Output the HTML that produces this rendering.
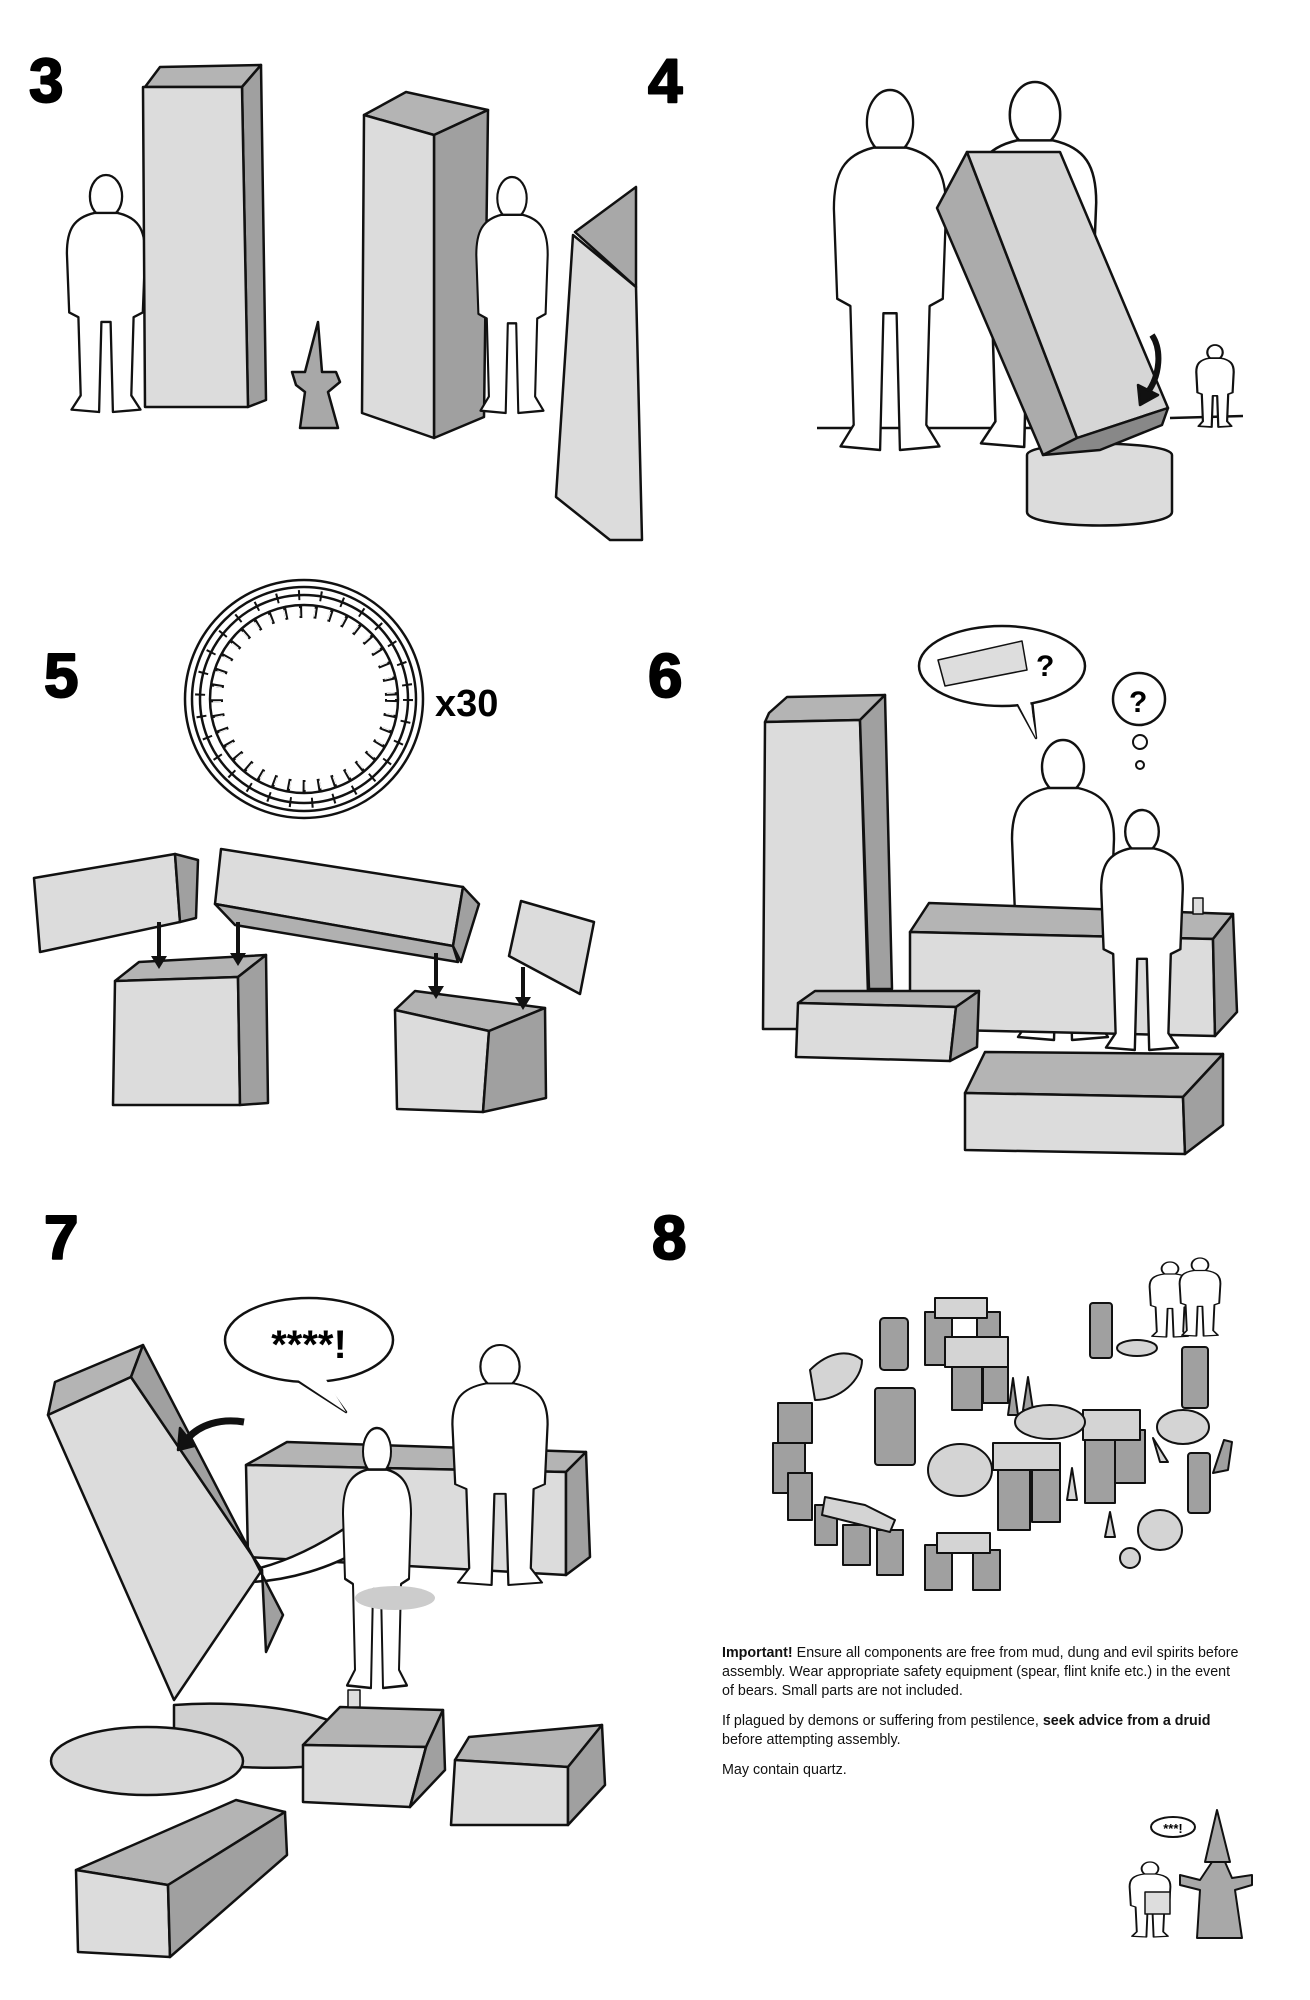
<!DOCTYPE html>
<html><head><meta charset="utf-8"><style>
html,body{margin:0;padding:0;background:#fff}
svg{display:block}
.t{font-family:"Liberation Sans",sans-serif;font-size:14.3px;fill:#111}
.n{font-family:"Liberation Sans",sans-serif;font-weight:bold;fill:#000;stroke:none}
.nb{font-family:"Liberation Sans",sans-serif;font-weight:bold;fill:#000;stroke:#000;stroke-width:2}
</style></head><body>
<svg width="1310" height="2000" viewBox="0 0 1310 2000" xmlns="http://www.w3.org/2000/svg">
<defs>
<g id="p">
<ellipse cx="0" cy="9" rx="7" ry="9"/>
<path d="M-5,16 C-14,18 -17,23 -17,33 L-16,58 L-12,60 L-11,93 L-15,99 L-3,100 L-2,62 L2,62 L3,100 L15,99 L11,93 L12,60 L16,58 L17,33 C17,23 14,18 5,16 Z"/>
</g>
</defs>
<rect width="1310" height="2000" fill="#fff"/>
<g stroke="#111" stroke-width="2.5" stroke-linejoin="round">

<g>
<text class="nb" x="29" y="102" font-size="62">3</text>
<text class="nb" x="648" y="102" font-size="62">4</text>
<text class="nb" x="44" y="697" font-size="62">5</text>
<text class="nb" x="648" y="697" font-size="62">6</text>
<text class="nb" x="44" y="1259" font-size="62">7</text>
<text class="nb" x="652" y="1259" font-size="62">8</text>
</g>

<!-- PANEL 3 -->
<g fill="#fff"><use href="#p" transform="translate(106,175) scale(2.3,2.37)" stroke-width="1"/></g>
<polygon points="145,87 160,67 261,65 242,87" fill="#b4b4b4"/>
<polygon points="242,87 261,65 266,400 248,407" fill="#a0a0a0"/>
<polygon points="143,87 242,87 248,407 145,407" fill="#dcdcdc"/>
<polygon points="364,115 406,92 488,110 434,135" fill="#b4b4b4"/>
<polygon points="434,135 488,110 484,417 434,438" fill="#a0a0a0"/>
<polygon points="364,115 434,135 434,438 362,413" fill="#dcdcdc"/>
<g fill="#fff"><use href="#p" transform="translate(512,177) scale(2.1,2.36)" stroke-width="1"/></g>
<polygon points="575,232 636,187 636,287" fill="#a8a8a8"/>
<polygon points="573,235 636,287 642,540 610,540 556,497" fill="#dcdcdc"/>
<path d="M318,322 L305,372 L292,372 L296,385 L305,392 L300,428 L338,428 L328,392 L340,382 L336,372 L322,372 Z" fill="#a8a8a8"/>

<!-- PANEL 4 -->
<line x1="817" y1="428" x2="1033" y2="428"/>
<line x1="1170" y1="418" x2="1243" y2="416"/>
<g fill="#fff">
<use href="#p" transform="translate(890,90) scale(3.3,3.6)" stroke-width="0.7"/>
<use href="#p" transform="translate(1035,82) scale(3.6,3.65)" stroke-width="0.7"/>
</g>
<path d="M1027,455 C1027,440 1172,440 1172,455 L1172,512 C1172,530 1027,530 1027,512 Z" fill="#dcdcdc"/>
<polygon points="937,208 967,152 1077,438 1043,455" fill="#ababab"/>
<polygon points="967,152 1060,152 1168,408 1077,438" fill="#d6d6d6"/>
<polygon points="1043,455 1077,438 1168,408 1162,425 1100,450" fill="#888"/>
<path d="M1152,335 C1162,350 1160,375 1148,392" fill="none" stroke-width="6"/>
<polygon points="1138,385 1158,395 1140,405" fill="#111"/>
<g fill="#fff"><use href="#p" transform="translate(1215,345) scale(1.1,0.82)" stroke-width="2"/></g>

<!-- PANEL 5 -->
<circle cx="304" cy="699" r="119" fill="#fff"/>
<circle cx="304" cy="699" r="112" fill="#fff"/>
<circle cx="304" cy="699" r="104" fill="#fff"/>
<circle cx="304" cy="699" r="104" fill="none" stroke-width="10" stroke="#111" stroke-dasharray="2 20"/>
<circle cx="304" cy="699" r="94" fill="#fff"/>
<circle cx="304" cy="699" r="87" fill="none" stroke-width="12" stroke="#111" stroke-dasharray="3 12"/>
<circle cx="304" cy="699" r="87" fill="none" stroke-width="8" stroke="#fff" stroke-dasharray="1 14"/>
<circle cx="304" cy="699" r="81" fill="#fff" stroke="none"/>
<text class="n" x="435" y="716" font-size="38">x30</text>
<polygon points="34,878 175,854 180,922 40,952" fill="#dcdcdc"/>
<polygon points="175,854 198,860 196,918 180,922" fill="#a0a0a0"/>
<polygon points="221,849 463,887 453,946 215,904" fill="#dcdcdc"/>
<polygon points="215,904 453,946 458,962 235,925" fill="#b0b0b0"/>
<polygon points="463,887 479,904 461,962 453,946" fill="#a0a0a0"/>
<polygon points="521,901 594,922 580,994 509,956" fill="#dcdcdc"/>
<polygon points="115,981 139,962 266,955 238,977" fill="#b4b4b4"/>
<polygon points="115,981 238,977 240,1105 113,1105" fill="#dcdcdc"/>
<polygon points="238,977 266,955 268,1103 240,1105" fill="#a0a0a0"/>
<polygon points="395,1010 415,991 545,1008 489,1031" fill="#b4b4b4"/>
<polygon points="395,1010 489,1031 483,1112 397,1109" fill="#dcdcdc"/>
<polygon points="489,1031 545,1008 546,1098 483,1112" fill="#a0a0a0"/>
<g stroke-width="4">
<line x1="159" y1="922" x2="159" y2="958"/><line x1="238" y1="922" x2="238" y2="955"/>
<line x1="436" y1="953" x2="436" y2="988"/><line x1="523" y1="967" x2="523" y2="999"/>
</g>
<g stroke="none" fill="#111">
<polygon points="151,956 167,956 159,969"/><polygon points="230,953 246,953 238,966"/>
<polygon points="428,986 444,986 436,999"/><polygon points="515,997 531,997 523,1010"/>
</g>

<!-- PANEL 6 -->
<polygon points="769,713 787,697 885,695 860,720 765,722" fill="#b4b4b4"/>
<polygon points="765,722 860,720 869,1029 763,1029" fill="#dcdcdc"/>
<polygon points="860,720 885,695 892,989 869,989" fill="#a0a0a0"/>
<g fill="#fff"><use href="#p" transform="translate(1063,740) scale(3.0,3.0)" stroke-width="0.8"/></g>
<polygon points="910,932 929,903 1233,914 1213,939" fill="#b4b4b4"/>
<polygon points="910,932 1213,939 1215,1036 910,1029" fill="#dcdcdc"/>
<polygon points="1213,939 1233,914 1237,1012 1215,1036" fill="#a0a0a0"/>
<g fill="#fff"><use href="#p" transform="translate(1142,810) scale(2.4,2.4)" stroke-width="1"/></g>
<rect x="1193" y="898" width="10" height="16" fill="#ddd" stroke-width="1.5"/>
<polygon points="798,1003 815,991 979,991 956,1007" fill="#b4b4b4"/>
<polygon points="798,1003 956,1007 950,1061 796,1057" fill="#dcdcdc"/>
<polygon points="956,1007 979,991 977,1047 950,1061" fill="#a0a0a0"/>
<polygon points="965,1093 985,1052 1223,1054 1183,1097" fill="#b4b4b4"/>
<polygon points="965,1093 1183,1097 1185,1154 965,1150" fill="#dcdcdc"/>
<polygon points="1183,1097 1223,1054 1223,1125 1185,1154" fill="#a0a0a0"/>
<path d="M1015,700 L1036,738 L1032,700" fill="#fff"/>
<ellipse cx="1002" cy="666" rx="83" ry="40" fill="#fff"/>
<path d="M1017,702 L1036,738 L1030,701" fill="#fff" stroke="none"/>
<polygon points="938,660 1022,641 1027,670 945,686" fill="#ddd" stroke-width="1.5"/>
<text class="n" x="1036" y="676" font-size="30">?</text>
<text class="n" x="1129" y="712" font-size="30">?</text>
<circle cx="1139" cy="699" r="26" fill="none"/>
<circle cx="1140" cy="742" r="7" fill="#fff" stroke-width="2"/>
<circle cx="1140" cy="765" r="4" fill="#fff" stroke-width="2"/>

<!-- PANEL 7 -->
<polygon points="246,1465 287,1442 586,1452 566,1472" fill="#b4b4b4"/>
<polygon points="246,1465 566,1472 566,1575 248,1557" fill="#dcdcdc"/>
<polygon points="566,1472 586,1452 590,1557 566,1575" fill="#a0a0a0"/>
<g fill="#fff">
<use href="#p" transform="translate(500,1345) scale(2.8,2.4)" stroke-width="0.8"/>
<path d="M350,1525 C320,1545 290,1560 260,1568 L252,1582 C290,1580 330,1568 360,1550 Z"/>
<use href="#p" transform="translate(377,1428) scale(2.0,2.6)" stroke-width="1"/>
</g>
<ellipse cx="395" cy="1598" rx="40" ry="12" fill="#ccc" stroke="none"/>
<polygon points="48,1415 55,1382 143,1345 131,1377" fill="#b4b4b4"/>
<polygon points="48,1415 131,1377 262,1570 174,1700" fill="#dcdcdc"/>
<polygon points="131,1377 143,1345 283,1615 266,1652 262,1570" fill="#a0a0a0"/>
<path d="M244,1422 C220,1418 200,1425 188,1438" fill="none" stroke-width="7"/>
<polygon points="180,1428 194,1446 178,1450" fill="#111"/>
<path d="M290,1376 L346,1412 L320,1376" fill="#fff"/>
<ellipse cx="309" cy="1340" rx="84" ry="42" fill="#fff"/>
<path d="M295,1378 L346,1412 L325,1378 Z" fill="#fff" stroke="none"/>
<text class="n" x="309" y="1358" font-size="40" text-anchor="middle">****!</text>
<path d="M174,1705 C240,1700 300,1710 328,1720 L328,1765 C280,1770 220,1768 174,1760 Z" fill="#d0d0d0"/>
<ellipse cx="147" cy="1761" rx="96" ry="34" fill="#d8d8d8"/>
<polygon points="303,1745 340,1707 443,1710 426,1747" fill="#b4b4b4"/>
<polygon points="303,1745 426,1747 410,1807 303,1802" fill="#dcdcdc"/>
<polygon points="426,1747 443,1710 445,1770 410,1807" fill="#a0a0a0"/>
<rect x="348" y="1690" width="12" height="17" fill="#ddd" stroke-width="1.5"/>
<polygon points="455,1760 469,1737 602,1725 568,1767" fill="#b4b4b4"/>
<polygon points="455,1760 568,1767 568,1825 451,1825" fill="#dcdcdc"/>
<polygon points="568,1767 602,1725 605,1785 568,1825" fill="#a0a0a0"/>
<polygon points="76,1870 236,1800 285,1812 168,1885" fill="#b4b4b4"/>
<polygon points="76,1870 168,1885 170,1957 78,1952" fill="#dcdcdc"/>
<polygon points="168,1885 285,1812 287,1855 170,1957" fill="#a0a0a0"/>

<!-- PANEL 8 -->
<g stroke-width="2">
<g fill="#fff"><use href="#p" transform="translate(1170,1262) scale(1.2,0.75)" stroke-width="1.6"/><use href="#p" transform="translate(1200,1258) scale(1.2,0.78)" stroke-width="1.6"/></g>
<g fill="#a0a0a0">
<rect x="925" y="1312" width="27" height="53"/><rect x="977" y="1312" width="23" height="30"/>
<rect x="880" y="1318" width="28" height="52" rx="4"/>
<rect x="875" y="1388" width="40" height="77" rx="3"/>
<rect x="952" y="1367" width="30" height="43"/><rect x="983" y="1367" width="25" height="36"/>
<rect x="778" y="1403" width="34" height="40"/><rect x="773" y="1443" width="32" height="50"/><rect x="788" y="1473" width="24" height="47"/>
<rect x="815" y="1505" width="22" height="40"/><rect x="843" y="1525" width="27" height="40"/><rect x="877" y="1530" width="26" height="45"/>
<rect x="925" y="1545" width="27" height="45"/><rect x="973" y="1550" width="27" height="40"/>
<rect x="998" y="1463" width="32" height="67"/><rect x="1032" y="1463" width="28" height="59"/>
<rect x="1085" y="1430" width="30" height="73"/><rect x="1115" y="1430" width="30" height="53"/>
<rect x="1090" y="1303" width="22" height="55" rx="3"/>
<rect x="1182" y="1347" width="26" height="61" rx="3"/>
<rect x="1188" y="1453" width="22" height="60" rx="3"/>
<polygon points="1213,1473 1224,1440 1232,1442 1228,1470"/>
<polygon points="1008,1415 1013,1378 1018,1415"/><polygon points="1023,1410 1028,1377 1033,1410"/>
</g>
<g fill="#d4d4d4">
<rect x="935" y="1298" width="52" height="20"/>
<rect x="945" y="1337" width="63" height="30"/>
<polygon points="825,1497 865,1505 895,1520 890,1532 822,1515"/>
<rect x="937" y="1533" width="53" height="20"/>
<rect x="993" y="1443" width="67" height="27"/>
<rect x="1083" y="1410" width="57" height="30"/>
<path d="M810,1370 C830,1350 850,1350 862,1360 C862,1380 840,1400 815,1400 Z"/>
<ellipse cx="1050" cy="1422" rx="35" ry="17"/>
<ellipse cx="960" cy="1470" rx="32" ry="26"/>
<ellipse cx="1183" cy="1427" rx="26" ry="17"/>
<ellipse cx="1160" cy="1530" rx="22" ry="20"/><ellipse cx="1130" cy="1558" rx="10" ry="10"/>
<ellipse cx="1137" cy="1348" rx="20" ry="8"/>
<polygon points="1067,1500 1072,1468 1077,1500"/><polygon points="1105,1537 1110,1512 1115,1537"/><polygon points="1153,1438 1168,1462 1160,1462"/>
</g>
</g>

<!-- bottom right characters -->
<g stroke-width="2">
<ellipse cx="1173" cy="1827" rx="22" ry="10" fill="#fff"/>
<g fill="#fff"><use href="#p" transform="translate(1150,1862) scale(1.2,0.75)" stroke-width="1.6"/></g>
<rect x="1145" y="1892" width="25" height="22" fill="#ddd" stroke-width="1.5"/>
<polygon points="1217,1810 1205,1862 1230,1862" fill="#a8a8a8"/>
<path d="M1212,1862 L1200,1880 L1180,1875 L1180,1885 L1200,1890 L1197,1938 L1242,1938 L1235,1890 L1252,1885 L1252,1875 L1232,1878 L1225,1862 Z" fill="#a8a8a8"/>
</g>
<text class="n" x="1173" y="1833" font-size="13" text-anchor="middle">***!</text>
</g>

<g class="t">
<text x="722" y="1657"><tspan font-weight="bold">Important!</tspan> Ensure all components are free from mud, dung and evil spirits before</text>
<text x="722" y="1676">assembly. Wear appropriate safety equipment (spear, flint knife etc.) in the event</text>
<text x="722" y="1695">of bears. Small parts are not included.</text>
<text x="722" y="1725">If plagued by demons or suffering from pestilence, <tspan font-weight="bold">seek advice from a druid</tspan></text>
<text x="722" y="1744">before attempting assembly.</text>
<text x="722" y="1774">May contain quartz.</text>
</g>
</svg>
</body></html>
